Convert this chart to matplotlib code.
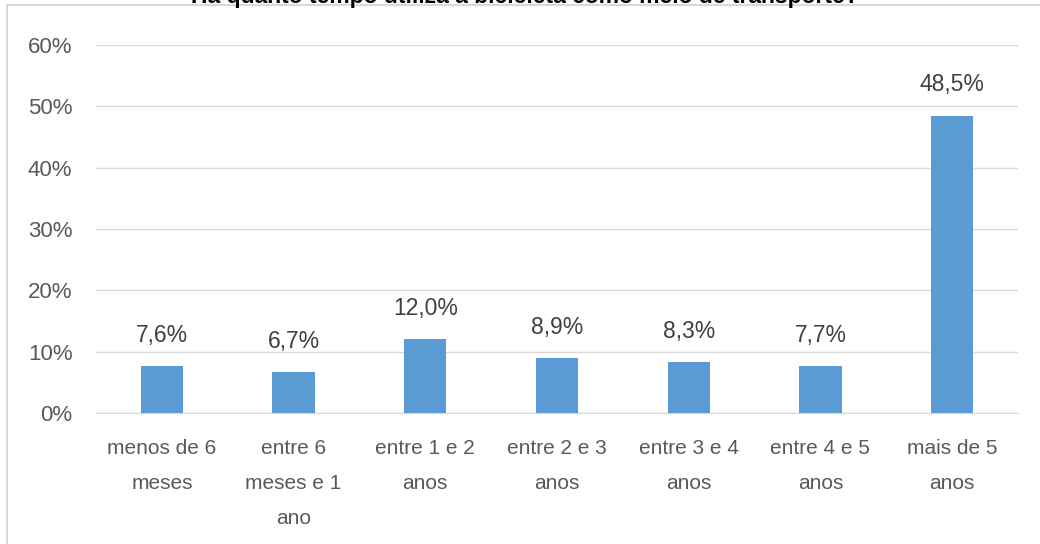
#!/usr/bin/env python3

import numpy as np
import matplotlib
matplotlib.use("Agg")
import matplotlib.pyplot as plt
from matplotlib.patches import Rectangle

categories = [
    "menos de 6\nmeses",
    "entre 6\nmeses e 1\nano",
    "entre 1 e 2\nanos",
    "entre 2 e 3\nanos",
    "entre 3 e 4\nanos",
    "entre 4 e 5\nanos",
    "mais de 5\nanos",
]
values = [7.6, 6.7, 12.0, 8.9, 8.3, 7.7, 48.5]
yticks = [0, 10, 20, 30, 40, 50, 60]
title = "Há quanto tempo utiliza a bicicleta como meio de transporte?"

plt.rcParams['font.family'] = ['Liberation Sans Narrow', 'Liberation Sans', 'DejaVu Sans']

W, H = 1040, 544
fig = plt.figure(figsize=(W / 100, H / 100), dpi=100)
ax = fig.add_axes([96 / W, 1 - 413 / H, (1018 - 96) / W, (413 - 45) / H])

# chart frame (partly cut off in the original)
fig.patches.append(Rectangle((7 / W, -0.1), 1.2, 1 - 5 / H + 0.1,
                             transform=fig.transFigure, fill=False,
                             edgecolor="#D9D9D9", linewidth=1.5))

# title is mostly cut off at the top edge in the original
fig.text(0.505, 1 - 3 / H, title, ha="center", va="baseline", fontsize=16.5,
         fontweight="bold", family=["Liberation Sans", "DejaVu Sans"])

x = np.arange(len(categories))
ax.bar(x, values, width=0.32, color="#5B9BD5", zorder=3)

for xi, v in zip(x, values):
    ax.annotate(f"{v:.1f}%".replace(".", ","), (xi, v), xytext=(0, 22),
                textcoords="offset points", ha="center", va="center",
                fontsize=16.5, color="#404040")

ax.set_xlim(-0.5, len(categories) - 0.5)
ax.set_ylim(0, 60)
ax.set_yticks(yticks)
ax.set_yticklabels([f"{t}%" for t in yticks], fontsize=16, color="#595959")
ax.set_xticks(x)
ax.set_xticklabels(categories, fontsize=15, color="#595959", linespacing=2.05)
ax.tick_params(axis="both", length=0)
ax.tick_params(axis="y", pad=17)
ax.tick_params(axis="x", pad=19)

ax.grid(axis="y", color="#D9D9D9", linewidth=1, zorder=0)
for s in ["top", "right", "left"]:
    ax.spines[s].set_visible(False)
ax.spines["bottom"].set_color("#D9D9D9")

fig.savefig("out.png", dpi=100)
